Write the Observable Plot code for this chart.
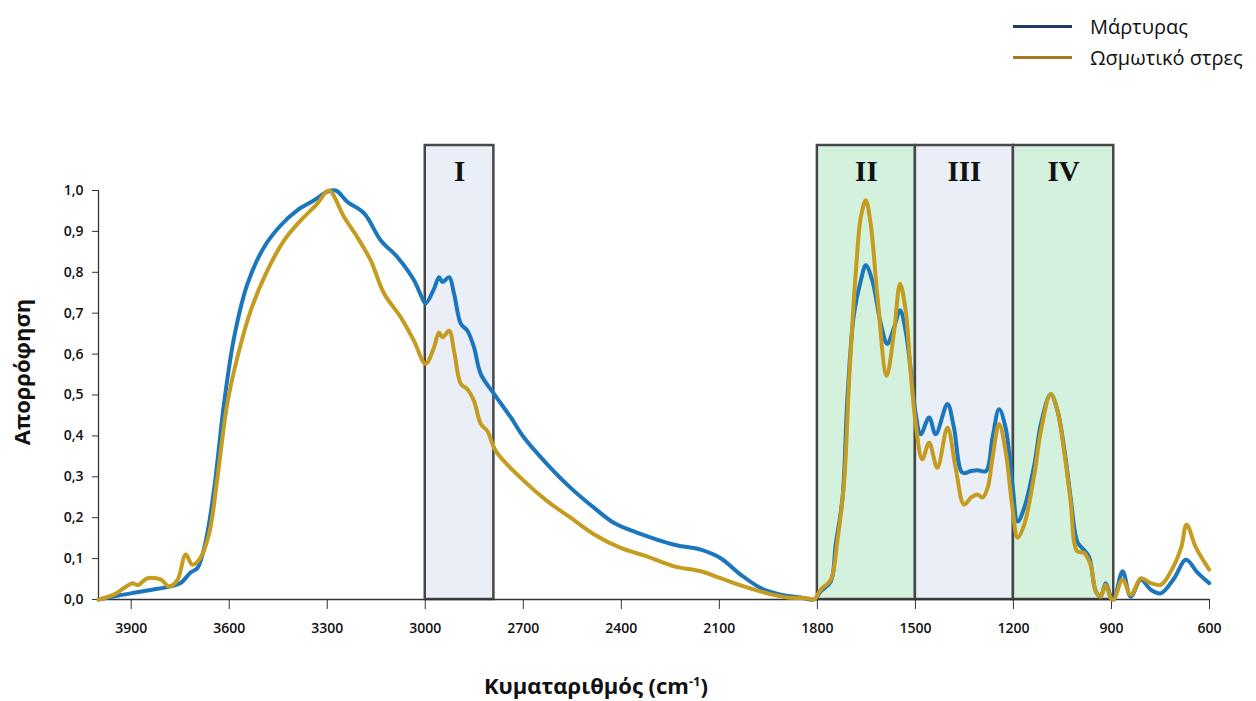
<!DOCTYPE html>
<html>
<head>
<meta charset="utf-8">
<script src="https://cdn.jsdelivr.net/npm/d3@7"></script>
<script src="https://cdn.jsdelivr.net/npm/@observablehq/plot@0.6"></script>
<style>
  body { margin: 0; background: #fff; }
  #wrap { position: relative; width: 1256px; height: 701px; font-family: "Open Sans", sans-serif; }
  #wrap svg { position: absolute; left: 0; top: 0; }
  .key { position: absolute; left: 1013px; top: 11px; font-size: 20px; color: #111; }
  .key div { display: flex; align-items: center; height: 31px; }
  .key span.sw { display: inline-block; width: 59px; height: 3.5px; margin-right: 18px; }
  .xtitle { position: absolute; left: 346px; width: 500px; top: 670px; text-align: center;
            font-weight: bold; font-size: 22px; color: #111; }
  .xtitle sup { font-size: 13px; }
  .ytitle { position: absolute; left: 21px; top: 372px; transform: translate(-50%, -50%) rotate(-90deg);
            font-weight: bold; font-size: 22px; color: #111; white-space: nowrap; }
</style>
</head>
<body>
<div id="wrap"></div>
<script>
// Wavenumbers (cm-1) and absorbance for the control sample
const controlWn = [4000, 3950, 3901, 3850, 3779, 3749, 3718, 3697, 3672, 3647, 3616, 3585, 3544, 3493, 3442, 3391, 3340, 3299, 3274, 3238, 3187, 3136, 3085, 3034, 3014, 2999, 2973, 2958, 2947, 2927, 2912, 2891, 2871, 2851, 2830, 2789, 2738, 2698, 2626, 2555, 2483, 2422, 2350, 2238, 2157, 2096, 2035, 1973, 1912, 1851, 1810, 1790, 1759, 1744, 1723, 1708, 1688, 1667, 1652, 1632, 1606, 1586, 1565, 1547, 1530, 1514, 1499, 1484, 1458, 1438, 1402, 1382, 1356, 1330, 1310, 1284, 1264, 1244, 1224, 1203, 1187, 1167, 1136, 1116, 1086, 1065, 1045, 1025, 1005, 990, 969, 948, 933, 918, 902, 893, 866, 841, 810, 780, 749, 708, 672, 636, 601];
const controlAbs = [0.0, 0.008, 0.015, 0.022, 0.032, 0.04, 0.066, 0.077, 0.142, 0.265, 0.478, 0.641, 0.772, 0.862, 0.915, 0.952, 0.976, 0.997, 1.0, 0.972, 0.944, 0.878, 0.837, 0.78, 0.745, 0.724, 0.76, 0.788, 0.776, 0.788, 0.748, 0.674, 0.657, 0.617, 0.551, 0.502, 0.445, 0.396, 0.33, 0.273, 0.224, 0.187, 0.163, 0.134, 0.122, 0.101, 0.061, 0.028, 0.012, 0.005, 0.0, 0.02, 0.044, 0.134, 0.249, 0.494, 0.698, 0.78, 0.817, 0.78, 0.674, 0.625, 0.666, 0.707, 0.657, 0.559, 0.453, 0.404, 0.445, 0.404, 0.478, 0.42, 0.31, 0.314, 0.316, 0.314, 0.396, 0.465, 0.42, 0.281, 0.191, 0.224, 0.33, 0.429, 0.502, 0.461, 0.371, 0.249, 0.142, 0.126, 0.105, 0.02, 0.007, 0.04, 0.007, 0.0, 0.069, 0.007, 0.048, 0.024, 0.015, 0.052, 0.097, 0.065, 0.04];

// Wavenumbers (cm-1) and absorbance under osmotic stress
const stressWn = [4000, 3953, 3922, 3896, 3880, 3850, 3810, 3784, 3759, 3733, 3713, 3692, 3662, 3636, 3606, 3575, 3534, 3483, 3432, 3381, 3330, 3295, 3249, 3208, 3167, 3126, 3075, 3035, 2999, 2973, 2958, 2947, 2927, 2912, 2891, 2871, 2851, 2830, 2810, 2784, 2698, 2626, 2555, 2483, 2402, 2320, 2238, 2157, 2096, 2025, 1953, 1892, 1830, 1810, 1790, 1759, 1739, 1718, 1703, 1682, 1667, 1652, 1637, 1616, 1588, 1565, 1547, 1530, 1514, 1499, 1479, 1458, 1433, 1402, 1377, 1351, 1330, 1310, 1295, 1279, 1264, 1244, 1224, 1203, 1187, 1167, 1136, 1116, 1086, 1065, 1045, 1025, 1005, 984, 964, 948, 933, 918, 902, 893, 866, 841, 810, 780, 749, 718, 687, 670, 641, 601];
const stressAbs = [0.0, 0.012, 0.028, 0.04, 0.035, 0.052, 0.049, 0.032, 0.047, 0.11, 0.085, 0.097, 0.159, 0.298, 0.478, 0.592, 0.707, 0.805, 0.878, 0.927, 0.968, 1.0, 0.936, 0.886, 0.829, 0.748, 0.69, 0.633, 0.576, 0.617, 0.653, 0.641, 0.657, 0.608, 0.527, 0.514, 0.486, 0.429, 0.412, 0.363, 0.29, 0.24, 0.2, 0.159, 0.126, 0.105, 0.081, 0.069, 0.052, 0.032, 0.015, 0.005, 0.003, 0.0, 0.024, 0.048, 0.142, 0.29, 0.535, 0.805, 0.935, 0.976, 0.919, 0.739, 0.547, 0.657, 0.772, 0.707, 0.551, 0.429, 0.343, 0.383, 0.322, 0.42, 0.322, 0.232, 0.249, 0.257, 0.249, 0.273, 0.347, 0.429, 0.363, 0.224, 0.151, 0.183, 0.306, 0.412, 0.502, 0.461, 0.363, 0.24, 0.118, 0.114, 0.085, 0.02, 0.007, 0.036, 0.003, 0.0, 0.049, 0.011, 0.052, 0.04, 0.036, 0.069, 0.126, 0.183, 0.126, 0.073];

// Spectral regions
const regionNames = ["I", "II", "III", "IV"];
const regionFrom = [3000, 1800, 1500, 1200];
const regionTo = [2790, 1500, 1200, 893];

// Axis ticks
const xTicks = [3900, 3600, 3300, 3000, 2700, 2400, 2100, 1800, 1500, 1200, 900, 600];
const yTicks = [0, 0.1, 0.2, 0.3, 0.4, 0.5, 0.6, 0.7, 0.8, 0.9, 1.0];

// Series names
const seriesNames = ["Μάρτυρας", "Ωσμωτικό στρες"];

const lineColors = ["#1b76bc", "#c59c1f"];
const keyColors = ["#1f3a6b", "#a8781f"];
const regionFills = ["#e9eef7", "#d4f1dd", "#e9eef7", "#d4f1dd"];
const regionTop = 1.11;

const control = controlWn.map((wn, i) => ({wn, a: controlAbs[i]}));
const stress = stressWn.map((wn, i) => ({wn, a: stressAbs[i]}));
const regions = regionNames.map((name, i) => ({
  name, from: regionFrom[i], to: regionTo[i], lo: 0, hi: regionTop, fill: regionFills[i]
}));

const chart = Plot.plot({
  width: 1256,
  height: 701,
  marginLeft: 98,
  marginRight: 47,
  marginTop: 190,
  marginBottom: 102,
  x: {domain: [4000, 600]},
  y: {domain: [0, 1]},
  style: {fontFamily: "'Open Sans', sans-serif", color: "#111", background: "transparent"},
  marks: [
    Plot.rect(regions, {x1: "from", x2: "to", y1: "lo", y2: "hi", fill: d => d.fill, stroke: "#474747", strokeWidth: 2.5}),
    Plot.text(regions, {x: d => (d.from + d.to) / 2, y: "hi", text: "name", dy: 26, fontSize: 29,
      fontWeight: "bold", fontFamily: "'Liberation Serif', serif", fill: "#111"}),
    Plot.ruleY([0], {stroke: "#333", strokeWidth: 1.3}),
    Plot.ruleX([4000], {y1: 0, y2: 1, stroke: "#333", strokeWidth: 1.3}),
    Plot.axisX({ticks: xTicks, tickSize: 10, tickPadding: 14, fontSize: 14, fontWeight: 600, label: null,
      tickFormat: d => String(d), stroke: "#333"}),
    Plot.axisY({ticks: yTicks, tickSize: 6, tickPadding: 9, fontSize: 14, fontWeight: 600, label: null,
      tickFormat: d => d.toFixed(1).replace(".", ","), stroke: "#333"}),
    Plot.line(control, {x: "wn", y: "a", stroke: lineColors[0], strokeWidth: 4, curve: "catmull-rom"}),
    Plot.line(stress, {x: "wn", y: "a", stroke: lineColors[1], strokeWidth: 4, curve: "catmull-rom"})
  ]
});

const wrap = document.getElementById("wrap");
wrap.appendChild(chart);

// Legend
const key = document.createElement("div");
key.className = "key";
seriesNames.forEach((name, i) => {
  const row = document.createElement("div");
  const sw = document.createElement("span");
  sw.className = "sw";
  sw.style.background = keyColors[i];
  row.appendChild(sw);
  row.appendChild(document.createTextNode(name));
  key.appendChild(row);
});
wrap.appendChild(key);

// Axis titles
const xt = document.createElement("div");
xt.className = "xtitle";
xt.innerHTML = "Κυματαριθμός (cm<sup>-1</sup>)";
wrap.appendChild(xt);

const yt = document.createElement("div");
yt.className = "ytitle";
yt.textContent = "Απορρόφηση";
wrap.appendChild(yt);
</script>
</body>
</html>
